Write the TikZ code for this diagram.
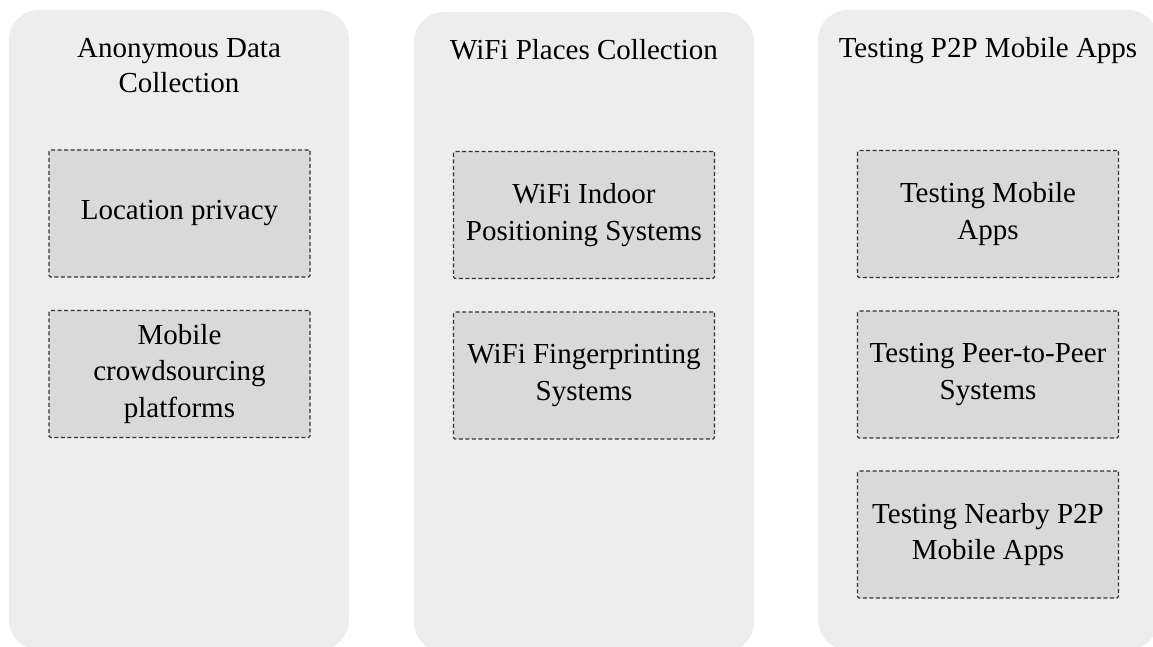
\documentclass[tikz,border=0pt]{standalone}
\usepackage{fontspec}
\setmainfont{Liberation Serif}
\begin{document}
\begin{tikzpicture}[x=1pt,y=-1pt,
  column/.style={fill=colbg,draw=none,rounded corners=30pt,minimum width=340pt,minimum height=640pt,inner sep=0pt},
  title/.style={align=center,font=\fontsize{29}{35}\selectfont,text=black},
  itembox/.style={fill=boxbg,draw=boxline,dash pattern=on 4pt off 2.5pt,line width=1.2pt,rounded corners=1.5pt,minimum width=261pt,minimum height=127pt,align=center,font=\fontsize{29}{36.5}\selectfont,inner sep=0pt}]
\definecolor{colbg}{HTML}{EDEDED}
\definecolor{boxbg}{HTML}{D9D9D9}
\definecolor{boxline}{HTML}{333333}
\useasboundingbox (0,0) rectangle (1153,647);
% columns
\node[column] (c1) at (179,330) {};
\node[column] (c2) at (584,332) {};
\node[column] (c3) at (988,330) {};
% titles
\node[title] (t1) at (179,66) {Anonymous Data\\Collection};
\node[title] (t2) at (584,50) {WiFi Places Collection};
\node[title] (t3) at (988,51) {Testing P2P Mobile Apps};
% items
\node[itembox] (a1) at (179.5,213.5) {Location privacy};
\node[itembox] (a2) at (179.5,374) {Mobile\\crowdsourcing\\platforms};
\node[itembox] (b1) at (584,215) {WiFi Indoor\\Positioning Systems};
\node[itembox] (b2) at (584,375.5) {WiFi Fingerprinting\\Systems};
\node[itembox] (d1) at (988,214) {Testing Mobile\\Apps};
\node[itembox] (d2) at (988,374.5) {Testing Peer-to-Peer\\Systems};
\node[itembox] (d3) at (988,534.5) {Testing Nearby P2P\\Mobile Apps};
\end{tikzpicture}
\end{document}
